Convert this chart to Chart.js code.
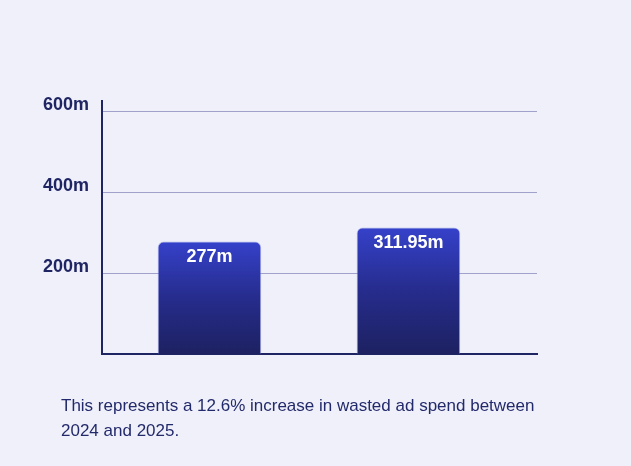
<!DOCTYPE html>
<html>
<head>
<meta charset="utf-8">
<script src="https://cdn.jsdelivr.net/npm/chart.js@4.4.1/dist/chart.umd.min.js"></script>
<style>
  html, body { margin: 0; padding: 0; background: #eff0f9; }
  #wrap { position: relative; width: 631px; height: 466px; }
  #chart { position: absolute; left: 0; top: 0; }
  #caption {
    position: absolute; left: 61px; top: 393px; width: 560px;
    font-family: 'Liberation Sans', Arial, sans-serif; font-size: 17px;
    line-height: 25px; color: #232a6b; margin: 0;
  }
</style>
</head>
<body>
<div id="wrap">
  <canvas id="chart" width="631" height="466"></canvas>
  <p id="caption">This represents a 12.6% increase in wasted ad spend between<br>2024 and 2025.</p>
</div>
<script>
const years = ['2024', '2025'];
const wastedSpend = [277, 311.95];
const barLabels = ['277m', '311.95m'];
const tickValues = [200, 400, 600];

const navy = '#1f2563';

// gradient per bar, from its own top down to the axis
function barGradient(context) {
    const chart = context.chart;
    if (!chart.chartArea || !context.parsed) return '#2a33a8';
    const y = chart.scales.y;
    const top = y.getPixelForValue(context.parsed.y);
    const g = chart.ctx.createLinearGradient(0, top, 0, y.getPixelForValue(0));
    g.addColorStop(0, '#3541ca');
    g.addColorStop(0.5, '#262c8c');
    g.addColorStop(1, '#1d2161');
    return g;
}

const valueLabels = {
    id: 'valueLabels',
    afterDatasetsDraw(chart) {
        const ctx = chart.ctx;
        const meta = chart.getDatasetMeta(0);
        ctx.save();
        ctx.fillStyle = '#ffffff';
        ctx.font = 'bold 18px "Liberation Sans", Arial, sans-serif';
        ctx.textAlign = 'center';
        ctx.textBaseline = 'middle';
        meta.data.forEach((bar, i) => {
            ctx.fillText(barLabels[i], bar.x, bar.y + 15);
        });
        ctx.restore();
    }
};

new Chart(document.getElementById('chart'), {
    type: 'bar',
    data: {
        labels: years,
        datasets: [{
            data: wastedSpend.map((v, i) => ({ x: i, y: v })),
            backgroundColor: barGradient,
            borderColor: 'rgba(110, 120, 220, 0.45)',
            borderWidth: 1,
            borderSkipped: 'bottom',
            borderRadius: { topLeft: 6, topRight: 6 },
            barThickness: 103
        }]
    },
    options: {
        responsive: false,
        animation: false,
        layout: { padding: { top: 101, right: 94, bottom: 112, left: 0 } },
        plugins: {
            legend: { display: false },
            tooltip: { enabled: false }
        },
        scales: {
            x: {
                type: 'linear',
                offset: false,
                min: -0.54,
                max: 1.646,
                grid: { display: false, drawTicks: false },
                border: { color: navy, width: 2 },
                ticks: { display: false }
            },
            y: {
                min: 0,
                max: 625,
                afterBuildTicks: function (scale) {
                    scale.ticks = tickValues.map(v => ({ value: v }));
                },
                afterFit: function (scale) {
                    scale.width = 102;
                },
                grid: { color: '#a0a2cc', lineWidth: 1, drawTicks: false },
                border: { color: navy, width: 2 },
                ticks: {
                    padding: 13,
                    labelOffset: -6,
                    color: navy,
                    font: { family: 'Liberation Sans', size: 18, weight: 'bold' },
                    callback: function (value) {
                        return value + 'm';
                    }
                }
            }
        }
    },
    plugins: [valueLabels]
});
</script>
</body>
</html>
